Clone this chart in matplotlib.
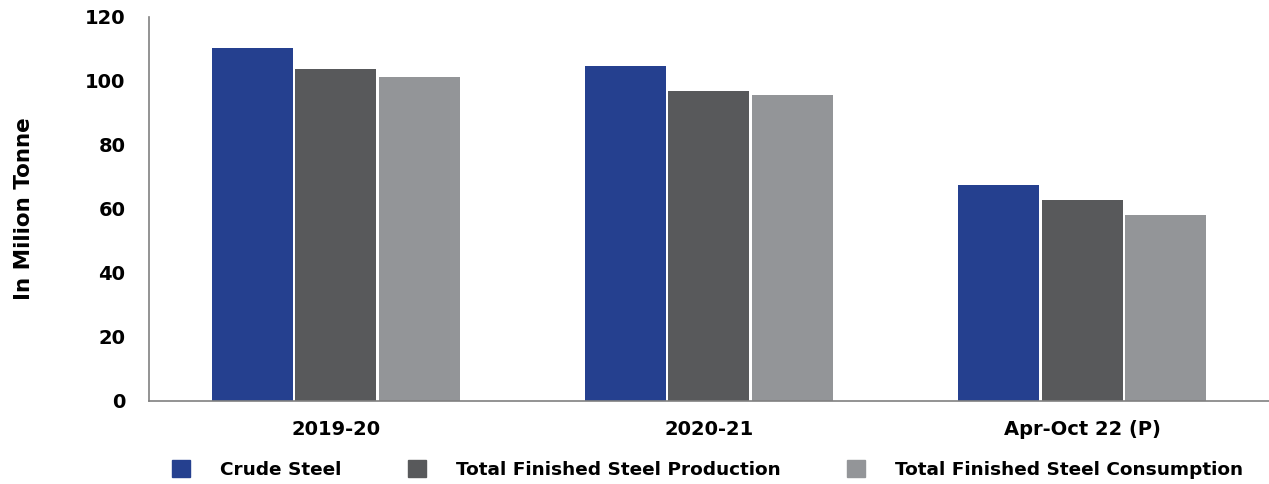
import numpy as np
import matplotlib
matplotlib.use('Agg')
import matplotlib.pyplot as plt
from matplotlib.patches import Patch
from matplotlib import rcParams
rcParams['font.family'] = ['DejaVu Sans']
rcParams['font.weight'] = 'bold'

periods = ['2019-20', '2020-21', 'Apr-Oct 22 (P)']
series_names = ['Crude Steel', 'Total Finished Steel Production', 'Total Finished Steel Consumption']
crude = [110.2, 104.6, 67.5]
production = [103.6, 97.0, 62.7]
consumption = [101.1, 95.7, 58.0]
colors = ['#25408F', '#58595B', '#939598']

fig = plt.figure(figsize=(12.69, 4.84), dpi=100)
ax = fig.add_axes([0.1174, 0.1715, 0.8826, 0.7935])

x = np.arange(len(periods))
step = 0.224
width = 0.217
for i, (vals, c) in enumerate(zip([crude, production, consumption], colors)):
    ax.bar(x + (i - 1) * step, vals, width, color=c, label=series_names[i])

ax.set_xlim(-0.5, 2.5)
ax.set_ylim(0, 120)
ax.set_yticks(range(0, 121, 20))
ax.set_xticks(x)
ax.set_xticklabels(periods)
ax.tick_params(axis='both', length=0, labelsize=14)
ax.tick_params(axis='x', pad=14)
ax.tick_params(axis='y', pad=17)
for s in ['top', 'right']:
    ax.spines[s].set_visible(False)
for s in ['left', 'bottom']:
    ax.spines[s].set_color('#808080')
    ax.spines[s].set_linewidth(1.2)

# y label placed in figure coords
fig.text(24 / 1269, 0.568, 'In Milion Tonne', rotation=90, ha='center', va='center',
         fontsize=15.5, fontweight='bold')

handles = [Patch(color=c) for c in colors]
fig.legend(handles, series_names, loc='center', bbox_to_anchor=(0.5575, 0.03), ncol=3,
           frameon=False, fontsize=13.3, handlelength=1.0, handleheight=1.0,
           handletextpad=1.6, columnspacing=3.6, borderpad=0, borderaxespad=0)

fig.savefig('out.png', dpi=100)
